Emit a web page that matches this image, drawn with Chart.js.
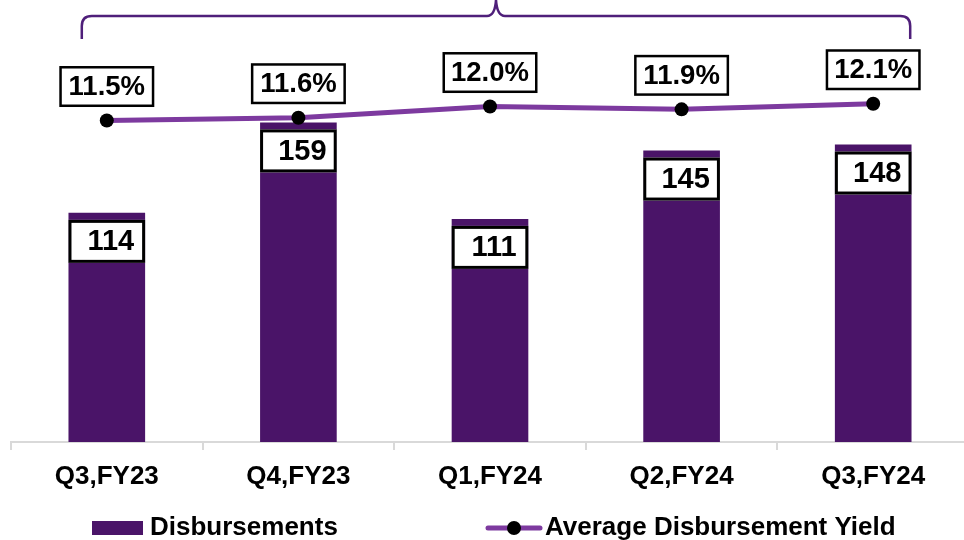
<!DOCTYPE html>
<html>
<head>
<meta charset="utf-8">
<script src="https://cdn.jsdelivr.net/npm/chart.js@4/dist/chart.umd.min.js"></script>
<style>
html,body{margin:0;padding:0;background:#fff;overflow:hidden;width:964px;height:540px;}
#wrap{width:964px;height:540px;overflow:hidden;position:relative;}
canvas{display:block;}
</style>
</head>
<body>
<div id="wrap"><canvas id="c" width="976" height="540" style="width:976px;height:540px"></canvas></div>
<script>
const categories = ["Q3,FY23", "Q4,FY23", "Q1,FY24", "Q2,FY24", "Q3,FY24"];
const disbursements = [114, 159, 111, 145, 148];
const yieldPct = [11.5, 11.6, 12.0, 11.9, 12.1];
const seriesNames = ["Disbursements", "Average Disbursement Yield"];

const BAR_COLOR = '#4a1468';
const LINE_COLOR = '#7d3a9f';
const BRACE_COLOR = '#4f1f7a';
const FONT = "'Liberation Sans', Arial, sans-serif";

const labelPlugin = {
  id: 'boxLabels',
  afterDatasetsDraw(chart) {
    const ctx = chart.ctx;
    ctx.save();
    const bm = chart.getDatasetMeta(0);
    bm.data.forEach((el, i) => {
      const w = el.width;
      const x0 = el.x - w / 2;
      const y0 = el.y + 7;
      const h = 43;
      ctx.fillStyle = '#fff';
      ctx.fillRect(x0, y0, w, h);
      ctx.lineWidth = 3;
      ctx.strokeStyle = '#000';
      ctx.strokeRect(x0 + 1.5, y0 + 1.5, w - 3, h - 3);
      ctx.fillStyle = '#000';
      ctx.font = "bold 29px " + FONT;
      ctx.textAlign = 'center';
      ctx.textBaseline = 'middle';
      ctx.fillText(String(chart.data.datasets[0].data[i]), el.x + 4, y0 + h / 2 + 1);
    });
    const lm = chart.getDatasetMeta(1);
    lm.data.forEach((el, i) => {
      const w = 95, h = 41;
      const cx = el.x, cy = el.y - 34;
      ctx.fillStyle = '#fff';
      ctx.fillRect(cx - w / 2, cy - h / 2, w, h);
      ctx.lineWidth = 2.5;
      ctx.strokeStyle = '#000';
      ctx.strokeRect(cx - w / 2 + 1.25, cy - h / 2 + 1.25, w - 2.5, h - 2.5);
      ctx.fillStyle = '#000';
      ctx.font = "bold 27.5px " + FONT;
      ctx.textAlign = 'center';
      ctx.textBaseline = 'middle';
      ctx.fillText(chart.data.datasets[1].data[i].toFixed(1) + '%', cx, cy + 1);
    });
    ctx.restore();
  },
  afterDraw(chart) {
    const ctx = chart.ctx;
    const xs = chart.scales.x;
    ctx.save();
    const left = xs.getPixelForValue(0) - 25;
    const right = xs.getPixelForValue(categories.length - 1) + 37;
    const mid = (left + right) / 2;
    const yTop = 16, yEnd = 39, r = 10;
    ctx.strokeStyle = BRACE_COLOR;
    ctx.lineWidth = 2.5;
    ctx.beginPath();
    ctx.moveTo(left, yEnd);
    ctx.lineTo(left, yTop + r);
    ctx.quadraticCurveTo(left, yTop, left + r, yTop);
    ctx.lineTo(mid - 9, yTop);
    ctx.quadraticCurveTo(mid - 1, yTop, mid, 0);
    ctx.quadraticCurveTo(mid + 1, yTop, mid + 9, yTop);
    ctx.lineTo(right - r, yTop);
    ctx.quadraticCurveTo(right, yTop, right, yTop + r);
    ctx.lineTo(right, yEnd);
    ctx.stroke();

    ctx.fillStyle = BAR_COLOR;
    ctx.fillRect(92, 521, 51, 14);
    ctx.fillStyle = '#000';
    ctx.font = "bold 26px " + FONT;
    ctx.textAlign = 'left';
    ctx.textBaseline = 'alphabetic';
    ctx.fillText(chart.data.datasets[0].label, 150, 535);

    ctx.strokeStyle = LINE_COLOR;
    ctx.lineWidth = 5;
    ctx.lineCap = 'round';
    ctx.beginPath();
    ctx.moveTo(488, 528);
    ctx.lineTo(540, 528);
    ctx.stroke();
    ctx.fillStyle = '#000';
    ctx.beginPath();
    ctx.arc(514, 528, 7, 0, Math.PI * 2);
    ctx.fill();
    ctx.fillText(chart.data.datasets[1].label, 545, 535);
    ctx.restore();
  }
};

new Chart(document.getElementById('c'), {
  data: {
    labels: categories,
    datasets: [
      {
        type: 'bar',
        label: seriesNames[0],
        data: disbursements,
        backgroundColor: BAR_COLOR,
        borderWidth: 0,
        barPercentage: 0.4,
        categoryPercentage: 1.0,
        yAxisID: 'y',
        order: 2
      },
      {
        type: 'line',
        label: seriesNames[1],
        data: yieldPct,
        borderColor: LINE_COLOR,
        borderWidth: 5,
        pointRadius: 7,
        pointBackgroundColor: '#000',
        pointBorderWidth: 0,
        tension: 0,
        yAxisID: 'y1',
        order: 1
      }
    ]
  },
  options: {
    responsive: false,
    animation: false,
    devicePixelRatio: 1,
    layout: { padding: { left: 11, right: 1, top: 40, bottom: 0 } },
    plugins: {
      legend: { display: false },
      tooltip: { enabled: false }
    },
    scales: {
      x: {
        offset: true,
        afterFit(s) { s.height = 98; },
        grid: {
          display: true,
          drawOnChartArea: false,
          drawTicks: true,
          tickLength: 8,
          color: '#d9d9d9',
          lineWidth: 2,
          offset: true
        },
        border: { display: true, color: '#d9d9d9', width: 2 },
        ticks: {
          color: '#000',
          padding: 11,
          maxRotation: 0,
          font: { family: FONT, size: 26, weight: 'bold' }
        }
      },
      y: { display: false, min: 0, max: 200 },
      y1: { display: false, min: 0, max: 14.38, position: 'right' }
    }
  },
  plugins: [labelPlugin]
});
</script>
</body>
</html>
